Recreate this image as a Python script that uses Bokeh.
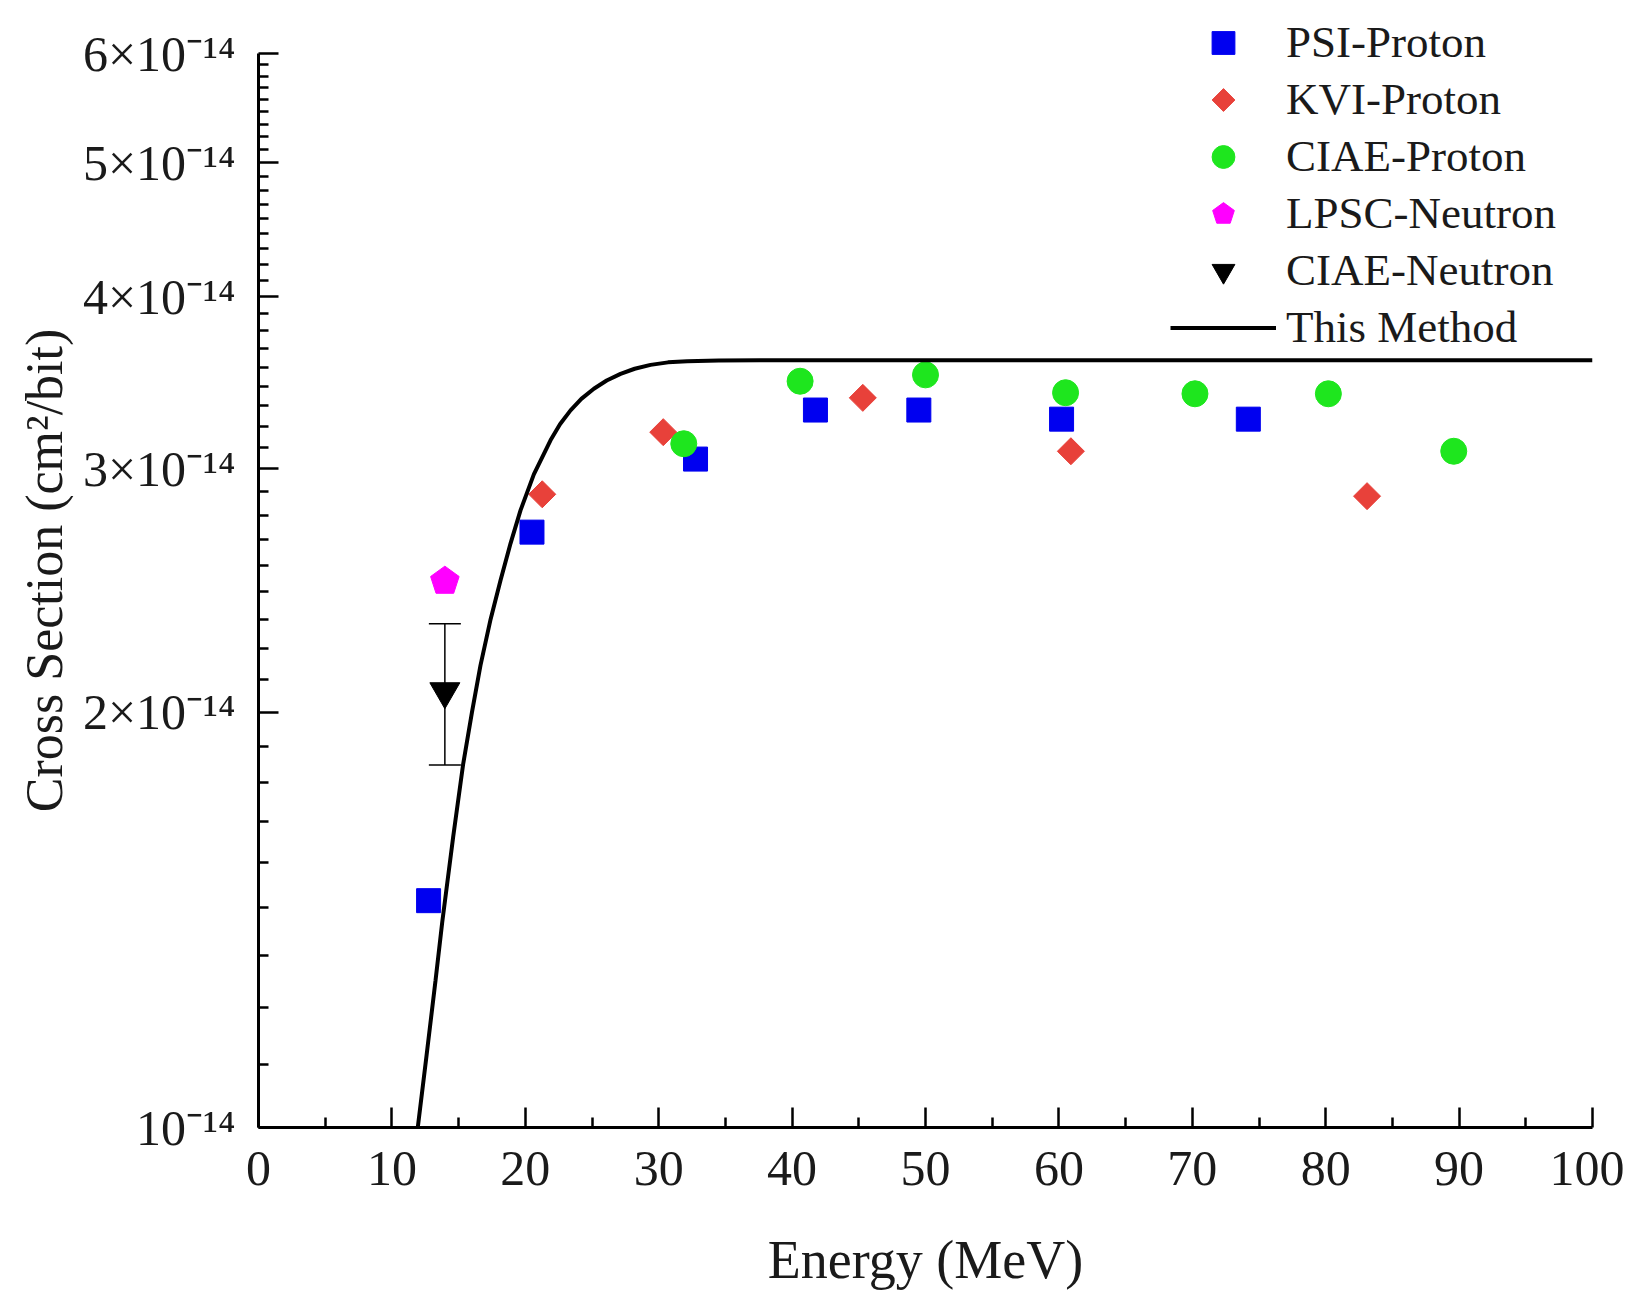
import math
import numpy as np
from bokeh.plotting import figure
from bokeh.models import (FixedTicker, Legend, LegendItem, Whisker, ColumnDataSource,
                          TeeHead, Range1d)
from bokeh.embed import file_html
from bokeh.resources import INLINE

# ---------------- data (cross sections in units of 1e-14 cm^2/bit) ----------------
UNIT = 1e-14

psi_x = [12.75, 20.5, 32.76, 41.75, 49.5, 60.2, 74.2]
psi_y = [1.46, 2.70, 3.05, 3.31, 3.31, 3.26, 3.26]

kvi_x = [21.27, 30.34, 45.3, 60.9, 83.1]
kvi_y = [2.876, 3.19, 3.378, 3.09, 2.867]

ciae_p_x = [31.88, 40.6, 50.0, 60.5, 70.2, 80.2, 89.6]
ciae_p_y = [3.129, 3.473, 3.51, 3.407, 3.401, 3.401, 3.09]

lpsc_x = [13.97]
lpsc_y = [2.488]

ciae_n_x = [13.97]
ciae_n_y = [2.07]
ciae_n_lo = [1.831]
ciae_n_hi = [2.317]

fit_x = [11.94, 12.6, 13.27, 13.77, 14.59, 15.34, 16.0, 16.64, 17.4, 18.14, 18.89,
         19.64, 20.64, 21.89, 22.6, 23.39, 24.2, 25.14, 26.1, 27.14, 28.2, 29.39,
         30.7, 32.14, 34.5, 37.6, 100.0]
fit_y = [1.0, 1.128, 1.278, 1.408, 1.623, 1.833, 1.999, 2.162, 2.335, 2.491, 2.649,
         2.800, 2.973, 3.147, 3.232, 3.308, 3.372, 3.430, 3.477, 3.516, 3.546, 3.569,
         3.584, 3.590, 3.595, 3.596, 3.596]

x_ticks = [0, 10, 20, 30, 40, 50, 60, 70, 80, 90, 100]
x_minor = [5, 15, 25, 35, 45, 55, 65, 75, 85, 95]
y_mant = [1, 2, 3, 4, 5, 6]
y_labels = ["10⁻¹⁴", "2×10⁻¹⁴", "3×10⁻¹⁴", "4×10⁻¹⁴", "5×10⁻¹⁴", "6×10⁻¹⁴"]

legend_labels = ["PSI-Proton", "KVI-Proton", "CIAE-Proton", "LPSC-Neutron",
                 "CIAE-Neutron", "This Method"]

x_title = "Energy (MeV)"
y_title = "Cross Section (cm²/bit)"

FONT = "Liberation Serif"
TXT = "#1a1a1a"

# ---------------- figure ----------------
W, H = 1624, 1298
BORDER_L, BORDER_T, BORDER_B = 258, 13, 171
EXTRA_TOP = 40                       # room above the axis end for the legend
FRAME_H = H - BORDER_T - BORDER_B     # total frame height in px
AXIS_H = FRAME_H - EXTRA_TOP          # px used by the 1e-14 .. 6e-14 axis
y_lo, y_hi = 1 * UNIT, 6 * UNIT
y_top = y_hi * 10 ** (math.log10(y_hi / y_lo) * EXTRA_TOP / AXIS_H)

p = figure(width=W, height=H, output_backend="svg", toolbar_location=None,
           x_range=Range1d(0, 100), y_range=Range1d(y_lo, y_top),
           y_axis_type="log",
           min_border_left=BORDER_L, min_border_right=W - BORDER_L - 1334,
           min_border_top=BORDER_T, min_border_bottom=BORDER_B)
p.outline_line_color = None
p.grid.visible = False
p.background_fill_color = "white"
p.border_fill_color = "white"

y_major = [m * UNIT for m in y_mant]
y_minor = [(m + k / 9.0) * UNIT for m in y_mant[:-1] for k in range(1, 9)]
p.yaxis.ticker = FixedTicker(ticks=y_major, minor_ticks=y_minor)
p.yaxis.major_label_overrides = {v: lab for v, lab in zip(y_major, y_labels)}
p.yaxis.bounds = (y_lo, y_hi)
p.xaxis.ticker = FixedTicker(ticks=x_ticks, minor_ticks=x_minor)

for ax in (p.xaxis[0], p.yaxis[0]):
    ax.axis_line_width = 3
    ax.axis_line_color = "black"
    ax.major_tick_in = 20
    ax.major_tick_out = 0
    ax.major_tick_line_width = 2.5
    ax.major_tick_line_color = "black"
    ax.minor_tick_in = 10
    ax.minor_tick_out = 0
    ax.minor_tick_line_width = 2.5
    ax.minor_tick_line_color = "black"
    ax.major_label_text_font = FONT
    ax.major_label_text_font_size = "50px"
    ax.major_label_text_color = TXT
    ax.axis_label_text_font = FONT
    ax.axis_label_text_font_style = "normal"
    ax.axis_label_text_color = TXT

p.xaxis.axis_label_text_font_size = "54px"
p.yaxis.axis_label_text_font_size = "52px"
p.xaxis.axis_label = x_title
p.yaxis.axis_label = y_title
p.xaxis.major_label_standoff = 24
p.yaxis.major_label_standoff = 23
p.xaxis.axis_label_standoff = 42
p.yaxis.axis_label_standoff = 7

# ---------------- glyphs ----------------
def arr(v):
    return np.array(v, dtype=float) * UNIT

src_err = ColumnDataSource(dict(base=ciae_n_x, lower=arr(ciae_n_lo), upper=arr(ciae_n_hi)))
whisk = Whisker(source=src_err, base="base", lower="lower", upper="upper",
                dimension="height", line_color="black", line_width=1.5,
                upper_head=TeeHead(size=32, line_width=1.5, line_color="black"),
                lower_head=TeeHead(size=32, line_width=1.5, line_color="black"))
p.add_layout(whisk)

r_psi = p.scatter(psi_x, arr(psi_y), marker="square", size=24,
                  fill_color="#0000F0", line_color="#0000F0")
try:
    r_kvi = p.ngon(x=kvi_x, y=arr(kvi_y), radius=13.5, radius_units="screen", n=4,
                   angle=0, fill_color="#E8413A", line_color="#E8413A")
except Exception:
    r_kvi = p.scatter(kvi_x, arr(kvi_y), marker="diamond", size=30,
                      fill_color="#E8413A", line_color="#E8413A", line_width=1.5)
r_ciae = p.scatter(ciae_p_x, arr(ciae_p_y), marker="circle", size=26,
                   fill_color="#1EE61E", line_color="#1EE61E")
try:
    r_lpsc = p.ngon(x=lpsc_x, y=arr(lpsc_y), radius=15, radius_units="screen", n=5,
                    angle=0, fill_color="#FF00FF", line_color="#FF00FF")
except Exception:
    r_lpsc = p.scatter(lpsc_x, arr(lpsc_y), marker="hex", size=27,
                       fill_color="#FF00FF", line_color="#FF00FF")
r_cn = p.scatter(ciae_n_x, arr(ciae_n_y), marker="inverted_triangle", size=30,
                 fill_color="black", line_color="black")
r_fit = p.line(fit_x, arr(fit_y), line_color="black", line_width=4)

renderers = [r_psi, r_kvi, r_ciae, r_lpsc, r_cn, r_fit]
legend = Legend(items=[LegendItem(label=l, renderers=[r]) for l, r in zip(legend_labels, renderers)],
                location=(912, 771.5), orientation="vertical",
                glyph_width=106, glyph_height=57, label_height=57, label_standoff=10,
                spacing=0, padding=0, margin=0,
                border_line_alpha=0, background_fill_alpha=0,
                label_text_font=FONT, label_text_font_size="45px", label_text_color=TXT)
p.add_layout(legend)

open("out.html", "w").write(file_html(p, INLINE))
